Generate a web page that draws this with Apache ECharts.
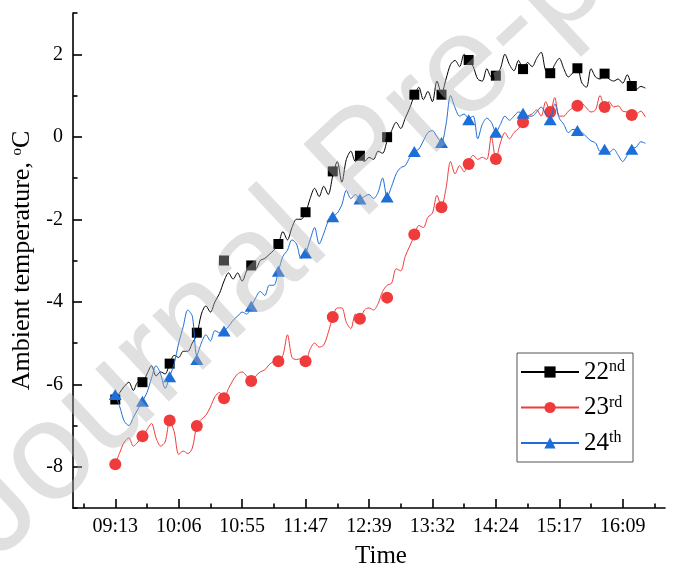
<!DOCTYPE html>
<html><head><meta charset="utf-8">
<script src="https://cdn.jsdelivr.net/npm/echarts@6/dist/echarts.min.js"></script>
<style>html,body{margin:0;padding:0;background:#fff}#c{width:679px;height:579px}</style>
</head><body><div id="c"></div>
<script>
// ---- data ----
const seriesNames = ['22nd', '23rd', '24th'];
const tickLabels = ['09:13', '10:06', '10:55', '11:47', '12:39', '13:32', '14:24', '15:17', '16:09'];
const tickStep = 21;     // samples between labelled ticks
const sampleStep = 1.5;  // samples between line points
const markerStep = 9;    // samples between markers

const line22 = [
  -6.37, -6.2, -6.05, -5.95, -6.15, -5.95, -5.95,
  -5.75, -5.55, -5.8, -5.7, -5.75, -5.5,
  -5.3, -5.35, -5.2, -5.2, -5.0, -4.8,
  -4.3, -4.1, -4.25, -4.0, -3.8, -3.5,
  -3.3, -3.45, -3.3, -3.5, -3.25, -3.1,
  -3.2, -3.0, -2.95, -2.85, -2.75, -2.6,
  -2.3, -2.5, -2.2, -2.0, -2.0, -1.85,
  -1.5, -1.25, -1.45, -1.2, -1.4, -0.95,
  -0.6, -1.1, -0.55, -0.35, -0.6, -0.5,
  -0.6, -0.5, -0.55, -0.35, -0.4, -0.1,
  0.15, 0.35, 0.2, 0.45, 0.7, 1.0,
  1.2, 0.9, 1.1, 0.85, 1.35, 1.05,
  1.4, 1.75, 1.85, 1.7, 2.0, 1.85,
  1.7, 1.4, 1.35, 1.65, 1.45, 1.5,
  1.65, 2.0, 1.75, 1.6, 1.85, 1.65,
  1.8, 1.7, 1.9, 2.05, 1.6, 1.55,
  1.75, 1.9, 1.65, 1.45, 1.55, 1.66,
  1.3, 1.2, 1.65, 1.45, 1.4, 1.5,
  1.4, 1.35, 1.4, 1.3, 1.5, 1.25,
  1.15, 1.22, 1.18
];
const line23 = [
  -7.94, -7.65, -7.4, -7.3, -7.5, -7.4, -7.26,
  -7.1, -6.95, -7.3, -7.5, -7.4, -6.9,
  -7.15, -7.7, -7.62, -7.68, -7.55, -7.0,
  -6.85, -6.75, -6.55, -6.3, -6.2, -6.34,
  -6.1, -5.9, -5.75, -5.7, -5.8, -5.92,
  -5.8, -5.7, -5.65, -5.52, -5.45, -5.44,
  -5.3, -4.8, -5.35, -5.4, -5.38, -5.44,
  -5.15, -5.0, -5.1, -5.05, -4.75, -4.37,
  -4.15, -4.15, -4.5, -4.65, -4.3, -4.41,
  -4.2, -4.15, -4.2, -4.05, -3.75, -3.6,
  -3.55, -3.2, -3.25, -2.9, -2.65, -2.4,
  -2.15, -2.2, -1.95, -1.85, -1.42, -1.7,
  -1.25, -0.6, -0.9, -0.7, -0.85, -0.6,
  -0.45, -0.55, -0.5, -0.55, 0.0, -0.54,
  -0.15, 0.1, -0.05, 0.1, 0.2, 0.35,
  0.5, 0.55, 0.65, 0.5, 0.85, 0.6,
  0.95, 0.5, 0.5, 0.62, 0.7, 0.75,
  0.8, 0.7, 0.6, 0.65, 1.0, 0.75,
  0.85, 0.72, 0.75, 0.62, 0.6, 0.53,
  0.55, 0.62, 0.48
];
const line24 = [
  -6.25, -6.55, -6.9, -7.0, -6.8, -6.6, -6.41,
  -6.2, -5.85, -5.55, -5.75, -6.1, -5.82,
  -5.5, -5.0, -4.6, -4.2, -4.35, -5.3,
  -5.0, -4.8, -4.95, -4.7, -4.75, -4.71,
  -4.6, -4.45, -4.35, -4.25, -4.3, -4.11,
  -3.9, -3.75, -3.85, -3.6, -3.6, -3.26,
  -2.9, -2.75, -2.5, -2.6, -2.95, -2.82,
  -2.5, -2.2, -2.6, -2.35, -2.05, -1.94,
  -1.85, -1.65, -1.3, -1.5, -1.4, -1.51,
  -1.45, -1.4, -1.5, -1.35, -1.0, -1.46,
  -1.2, -0.9, -0.75, -0.7, -0.5, -0.36,
  -0.3, -0.1, 0.1, 0.15, 0.0, -0.14,
  0.3, 1.0, 0.7, 0.5, 0.55, 0.45,
  0.5, -0.05, 0.3, 0.45, 0.35, 0.11,
  0.3, 0.5, 0.4, 0.5, 0.6, 0.57,
  0.5, 0.5, 0.6, 0.72, 0.55, 0.41,
  0.8, 0.45, 0.3, 0.1, 0.18, 0.15,
  0.1, 0.0, -0.1, -0.15, -0.35, -0.3,
  -0.38, -0.3, -0.45, -0.6, -0.45, -0.3,
  -0.25, -0.12, -0.16
];

const mark22 = [-6.37, -5.95, -5.5, -4.75, -3.0, -3.12, -2.6, -1.83, -0.84, -0.46, -0.01, 1.02, 1.02, 1.86, 1.48, 1.64, 1.54, 1.66, 1.53, 1.23];
const mark23 = [-7.94, -7.26, -6.88, -7.01, -6.34, -5.92, -5.44, -5.44, -4.37, -4.41, -3.9, -2.37, -1.71, -0.66, -0.54, 0.35, 0.60, 0.75, 0.72, 0.53];
const mark24 = [-6.25, -6.41, -5.82, -5.4, -4.71, -4.11, -3.26, -2.82, -1.94, -1.51, -1.46, -0.36, -0.14, 0.41, 0.11, 0.57, 0.41, 0.15, -0.30, -0.30];

const yLabels = [-8, -6, -4, -2, 0, 2];

// ---- chart ----
const serif = '"Liberation Serif", "Times New Roman", serif';
const colors = ['#000000', '#EF3B3B', '#1C6ED8'];
const symbols = ['rect', 'circle', 'triangle'];
const symSizes = [10, 12, [13, 11]];
const lines = [line22, line23, line24];
const marks = [mark22, mark23, mark24];

const majorX = tickLabels.map((_, i) => i * tickStep);
const minorX = [];
for (let i = -1; i < tickLabels.length; i++) minorX.push(i * tickStep + tickStep / 2);
const minorY = [];
for (let v = -9; v <= 3; v += 2) minorY.push(v);

const axisColor = '#000';
const series = [];
seriesNames.forEach((name, k) => {
  series.push({
    name: name, type: 'line',
    data: lines[k].map((v, i) => [i * sampleStep, v]),
    showSymbol: false, symbol: symbols[k], smooth: 0.3,
    lineStyle: { width: 1, color: colors[k] },
    itemStyle: { color: colors[k] },
    silent: true, animation: false, z: 2 + k * 2
  });
  series.push({
    name: name + ' markers', type: 'scatter',
    data: marks[k].map((v, i) => [i * markerStep, v]),
    symbol: symbols[k], symbolSize: symSizes[k],
    itemStyle: { color: colors[k], opacity: 1 },
    silent: true, animation: false, z: 3 + k * 2
  });
});

const chart = echarts.init(document.getElementById('c'));
chart.setOption({
  animation: false,
  backgroundColor: '#fff',
  grid: { left: 73, right: 14, top: 13, bottom: 71, containLabel: false, outerBoundsMode: 'none' },
  xAxis: [{
    type: 'value', min: -14, max: 182, position: 'bottom',
    axisLine: { show: true, onZero: false, lineStyle: { color: axisColor, width: 1.6 } },
    axisTick: { show: true, inside: true, length: 9, customValues: majorX, lineStyle: { color: axisColor, width: 1.6 } },
    axisLabel: { customValues: majorX, formatter: v => tickLabels[Math.round(v / tickStep)] || '',
      fontFamily: serif, fontSize: 20, color: '#000', margin: 9 },
    splitLine: { show: false },
    name: 'Time', nameLocation: 'middle', nameGap: 36,
    nameTextStyle: { fontFamily: serif, fontSize: 25, color: '#000', padding: [0, 0, 0, 24] }
  }, {
    type: 'value', min: -14, max: 182, position: 'bottom', offset: 0,
    axisLine: { show: false, onZero: false },
    axisTick: { show: true, inside: true, length: 4.5, customValues: minorX, lineStyle: { color: axisColor, width: 1.6 } },
    axisLabel: { show: false }, splitLine: { show: false }
  }],
  yAxis: [{
    type: 'value', min: -9, max: 3, position: 'left',
    axisLine: { show: true, onZero: false, lineStyle: { color: axisColor, width: 1.6 } },
    axisTick: { show: true, inside: true, length: 9, customValues: yLabels, lineStyle: { color: axisColor, width: 1.6 } },
    axisLabel: { customValues: yLabels, fontFamily: serif, fontSize: 20, color: '#000', margin: 10 },
    splitLine: { show: false },
    name: 'Ambient temperature, {sup|o}C', nameLocation: 'middle', nameGap: 29,
    nameTextStyle: { fontFamily: serif, fontSize: 26, color: '#000', lineHeight: 26,
      rich: { sup: { fontFamily: serif, fontSize: 15, lineHeight: 15, verticalAlign: 'top', color: '#000' } } }
  }, {
    type: 'value', min: -9, max: 3, position: 'left', offset: 0,
    axisLine: { show: false, onZero: false },
    axisTick: { show: true, inside: true, length: 4.5, customValues: minorY, lineStyle: { color: axisColor, width: 1.6 } },
    axisLabel: { show: false }, splitLine: { show: false }
  }],
  legend: {
    data: seriesNames, orient: 'vertical', left: 517, top: 353,
    itemWidth: 58, itemHeight: 14, itemGap: 9.5, itemTextGap: 5,
    padding: [6, 8, 6, 3],
    borderColor: '#555', borderWidth: 1, backgroundColor: '#fff',
    selectedMode: false,
    formatter: n => n.replace(/^(\d+)(\D+)$/, '$1{sup|$2}'),
    textStyle: { fontFamily: serif, fontSize: 25, color: '#000', lineHeight: 26,
      rich: { sup: { fontFamily: serif, fontSize: 16, lineHeight: 16, verticalAlign: 'top', color: '#000' } } }
  },
  graphic: [{
    type: 'text', x: 18, y: 585, rotation: 43 * Math.PI / 180, z: 100, silent: true,
    style: { text: 'Journal Pre-proof', font: '140px "Liberation Sans", Arial, sans-serif',
      fill: 'rgba(177,177,177,0.4)', verticalAlign: 'bottom', align: 'left' }
  }],
  series: series
});
</script>
</body></html>
